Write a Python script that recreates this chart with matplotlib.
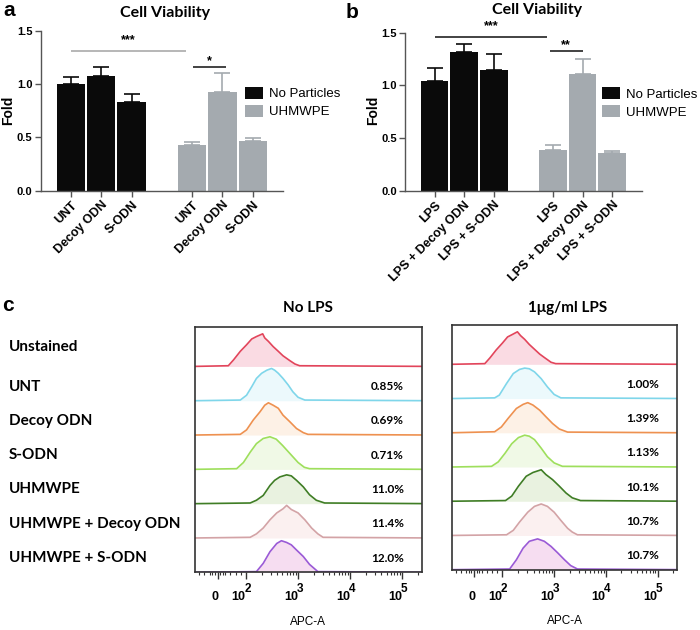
import math
import matplotlib
matplotlib.use("Agg")
import matplotlib.pyplot as plt
from matplotlib.transforms import blended_transform_factory

plt.rcParams['font.family'] = ['Liberation Sans', 'DejaVu Sans']

# ---------------- data: bar panels ----------------
a_labels = ["UNT", "Decoy ODN", "S-ODN", "UNT", "Decoy ODN", "S-ODN"]
a_values = [1.00, 1.08, 0.835, 0.43, 0.925, 0.465]
a_errors = [0.07, 0.085, 0.073, 0.03, 0.185, 0.033]
b_labels = ["LPS", "LPS + Decoy ODN", "LPS + S-ODN", "LPS", "LPS + Decoy ODN", "LPS + S-ODN"]
b_values = [1.042, 1.317, 1.143, 0.386, 1.105, 0.361]
b_errors = [0.12, 0.079, 0.152, 0.048, 0.148, 0.019]
groups = ["No Particles", "No Particles", "No Particles", "UHMWPE", "UHMWPE", "UHMWPE"]
bar_pos = [0, 1, 2, 4, 5, 6]

# ---------------- data: flow histograms (x in log10 units, height as fraction of row) ----------------
row_labels = ["Unstained", "UNT", "Decoy ODN", "S-ODN", "UHMWPE", "UHMWPE + Decoy ODN", "UHMWPE + S-ODN"]
pct_nolps = ["", "0.85%", "0.69%", "0.71%", "11.0%", "11.4%", "12.0%"]
pct_lps = ["", "1.00%", "1.39%", "1.13%", "10.1%", "10.7%", "10.7%"]
line_colors = ["#e2455b", "#7fd6ea", "#ee9150", "#9edf5c", "#3f7d25", "#d3a3a6", "#9a5ad6"]
fill_colors = ["#fadbe3", "#ecf9fc", "#fdf1e6", "#f0f9e6", "#e9f2e0", "#fbf0f0", "#f6ddf1"]

L1_u = [1.66, 1.76, 1.89, 2.01, 2.11, 2.20, 2.32, 2.36, 2.43, 2.52, 2.62, 2.71, 2.84, 2.94, 3.03]
L1_h = [0.02, 0.19, 0.44, 0.63, 0.80, 0.87, 0.95, 0.83, 0.73, 0.58, 0.44, 0.31, 0.17, 0.07, 0.02]
L2_u = [1.89, 2.01, 2.11, 2.20, 2.30, 2.40, 2.49, 2.55, 2.62, 2.71, 2.81, 2.90, 3.00, 3.13]
L2_h = [0.02, 0.16, 0.41, 0.65, 0.80, 0.89, 0.94, 0.89, 0.80, 0.65, 0.46, 0.26, 0.10, 0.02]
L3_u = [1.89, 2.01, 2.14, 2.27, 2.36, 2.43, 2.52, 2.62, 2.71, 2.84, 2.97, 3.10, 3.19]
L3_h = [0.02, 0.15, 0.44, 0.68, 0.87, 0.94, 0.87, 0.78, 0.58, 0.39, 0.19, 0.07, 0.02]
L4_u = [1.82, 1.95, 2.08, 2.20, 2.33, 2.46, 2.58, 2.70, 2.85, 3.00, 3.12, 3.22]
L4_h = [0.02, 0.20, 0.50, 0.75, 0.90, 0.95, 0.88, 0.70, 0.45, 0.20, 0.06, 0.02]
L5_u = [2.08, 2.20, 2.33, 2.46, 2.55, 2.65, 2.78, 2.87, 2.97, 3.10, 3.22, 3.35, 3.51]
L5_h = [0.02, 0.10, 0.24, 0.53, 0.68, 0.78, 0.84, 0.81, 0.68, 0.49, 0.26, 0.10, 0.02]
L6_u = [2.08, 2.20, 2.33, 2.46, 2.59, 2.71, 2.78, 2.87, 3.00, 3.13, 3.26, 3.38, 3.48]
L6_h = [0.02, 0.12, 0.29, 0.53, 0.73, 0.85, 0.95, 0.83, 0.73, 0.53, 0.29, 0.12, 0.02]
L7_u = [2.20, 2.33, 2.46, 2.59, 2.68, 2.78, 2.87, 2.97, 3.10, 3.22, 3.38]
L7_h = [0.02, 0.26, 0.60, 0.84, 0.92, 0.87, 0.80, 0.65, 0.46, 0.23, 0.02]

R1_u = [1.66, 1.76, 1.88, 2.00, 2.10, 2.19, 2.29, 2.35, 2.43, 2.52, 2.62, 2.72, 2.81, 2.94, 3.03]
R1_h = [0.02, 0.19, 0.42, 0.62, 0.80, 0.87, 0.95, 0.84, 0.73, 0.58, 0.44, 0.30, 0.20, 0.06, 0.02]
R2_u = [1.85, 1.94, 2.08, 2.21, 2.33, 2.43, 2.52, 2.62, 2.75, 2.87, 3.00, 3.13]
R2_h = [0.02, 0.10, 0.44, 0.73, 0.85, 0.89, 0.87, 0.78, 0.58, 0.34, 0.12, 0.02]
R3_u = [1.85, 1.98, 2.11, 2.27, 2.40, 2.49, 2.59, 2.72, 2.84, 2.97, 3.10, 3.26]
R3_h = [0.03, 0.17, 0.42, 0.71, 0.83, 0.88, 0.81, 0.66, 0.47, 0.27, 0.11, 0.02]
R4_u = [1.79, 1.92, 2.05, 2.18, 2.31, 2.43, 2.52, 2.62, 2.75, 2.87, 3.00, 3.16]
R4_h = [0.02, 0.15, 0.40, 0.68, 0.86, 0.93, 0.90, 0.80, 0.55, 0.30, 0.12, 0.02]
R5_u = [2.06, 2.18, 2.31, 2.46, 2.59, 2.75, 2.84, 2.97, 3.10, 3.23, 3.35, 3.51]
R5_h = [0.02, 0.15, 0.44, 0.73, 0.84, 0.92, 0.78, 0.63, 0.44, 0.24, 0.10, 0.02]
R6_u = [2.08, 2.21, 2.33, 2.49, 2.62, 2.75, 2.87, 3.00, 3.13, 3.26, 3.35, 3.45]
R6_h = [0.02, 0.15, 0.39, 0.68, 0.85, 0.92, 0.85, 0.68, 0.44, 0.21, 0.10, 0.02]
R7_u = [2.14, 2.27, 2.40, 2.52, 2.68, 2.81, 2.94, 3.07, 3.20, 3.32, 3.45]
R7_h = [0.02, 0.29, 0.63, 0.83, 0.90, 0.83, 0.68, 0.49, 0.29, 0.12, 0.02]

nolps_u = [L1_u, L2_u, L3_u, L4_u, L5_u, L6_u, L7_u]
nolps_h = [L1_h, L2_h, L3_h, L4_h, L5_h, L6_h, L7_h]
lps_u = [R1_u, R2_u, R3_u, R4_u, R5_u, R6_u, R7_u]
lps_h = [R1_h, R2_h, R3_h, R4_h, R5_h, R6_h, R7_h]

decade_ticks = [2, 3, 4, 5]
decade_exps = ["2", "3", "4", "5"]
zero_tick = 1.46

BLACK = "#0a0a0a"
GRAY = "#a4aaaf"
CAL = ['Lato', 'DejaVu Sans']
W, H = 700, 630

fig = plt.figure(figsize=(7, 6.3), dpi=100)


def fx(px):
    return px / W


def fy(py):
    return 1 - py / H


def bar_panel(rect, labels, values, errors, sig, leg_x, leg_y):
    ax = fig.add_axes(rect)
    cols = [BLACK if g == "No Particles" else GRAY for g in groups]
    for i, (p, v, e, c) in enumerate(zip(bar_pos, values, errors, cols)):
        lab = groups[i] if i in (0, 3) else None
        ax.bar(p, v, width=0.93, color=c, label=lab, zorder=2)
        ax.errorbar(p, v, yerr=[[0], [e]], fmt='none', ecolor=c, elinewidth=1.2,
                    capsize=5.5, capthick=1.2, zorder=3)
    ax.set_xlim(-1, 7)
    ax.set_ylim(0, 1.5)
    ax.set_yticks([0, 0.5, 1.0, 1.5])
    ax.set_yticklabels(["0.0", "0.5", "1.0", "1.5"], fontsize=8, fontweight='bold')
    ax.set_xticks(bar_pos)
    ax.set_xticklabels(labels, rotation=45, ha='right', rotation_mode='anchor',
                       fontsize=9, fontweight='bold')
    for s in ("top", "right"):
        ax.spines[s].set_visible(False)
    for s in ("left", "bottom"):
        ax.spines[s].set_color("#555555")
        ax.spines[s].set_linewidth(1.0)
    ax.tick_params(axis='both', direction='out', color="#555555", length=4, width=1.0, pad=2)
    ax.legend(loc='center left', bbox_to_anchor=(leg_x, leg_y), frameon=False,
              fontsize=9.5, handlelength=1.35, handleheight=1.0, handletextpad=0.45,
              labelspacing=0.35, borderaxespad=0, borderpad=0)
    for (x0, x1, y, txt, ty, col) in sig:
        ax.plot([x0, x1], [y, y], color=col, lw=1.2, clip_on=False, solid_capstyle='butt')
        ax.text((x0 + x1) / 2, ty, txt, ha='center', va='center', fontsize=9,
                fontweight='bold', clip_on=False)
    return ax


axa = bar_panel([fx(40.7), fy(190.7), fx(242.3), 159.7 / H], a_labels, a_values, a_errors,
                [(0, 3.8, 1.315, "***", 1.41, "#aaaaaa"), (4.02, 5.12, 1.164, "*", 1.215, "#222222")],
                0.843, 0.552)
axb = bar_panel([fx(405), fy(190.7), fx(236.7), 158 / H], b_labels, b_values, b_errors,
                [(0.02, 3.8, 1.462, "***", 1.56, "#222222"), (3.9, 5.0, 1.327, "**", 1.385, "#222222")],
                0.832, 0.555)

fig.text(fx(8), fy(110), "Fold", rotation=90, ha='center', va='center', fontsize=10, fontweight='bold')
fig.text(fx(373), fy(110), "Fold", rotation=90, ha='center', va='center', fontsize=10, fontweight='bold')

fig.text(fx(165), fy(13), "Cell Viability", ha='center', va='center', fontsize=11.5,
         fontweight='bold', family=CAL)
fig.text(fx(537), fy(10), "Cell Viability", ha='center', va='center', fontsize=11.5,
         fontweight='bold', family=CAL)
fig.text(fx(9), fy(10), "a", ha='center', va='center', fontsize=15, fontweight='bold')
fig.text(fx(352), fy(12), "b", ha='center', va='center', fontsize=15, fontweight='bold')
fig.text(fx(8), fy(305), "c", ha='center', va='center', fontsize=15, fontweight='bold')


def hist_panel(rect, us, hs, pcts, title, title_x, title_y, xlab_x, xlab_y):
    ax = fig.add_axes(rect)
    n = len(us)
    for k in range(n):
        base = n - 1 - k
        u = [1.0] + us[k] + [5.6]
        h = [0.0] + hs[k] + [0.0]
        y = [base + v for v in h]
        ax.fill_between(u, base, y, color=fill_colors[k], lw=0, zorder=1)
        ax.plot(u, y, color=line_colors[k], lw=1.2, zorder=2)
        if pcts[k]:
            ax.text(4.72, base + 0.41, pcts[k], ha='center', va='center', fontsize=8.5,
                    fontweight='bold', family=CAL)
    ax.set_xlim(1.02, 5.38)
    ax.set_ylim(0, 7.14)
    ax.set_yticks([])
    ax.set_xticks([zero_tick] + decade_ticks)
    ax.set_xticklabels([])
    minor = [1.1, 1.2, 1.3, 1.35, 1.4, 1.5, 1.55, 1.6, 1.7, 1.8, 1.9]
    for d in (2, 3, 4, 5):
        for m in range(2, 10):
            v = d + math.log10(m)
            if v < 5.38:
                minor.append(v)
    ax.set_xticks(minor, minor=True)
    ax.tick_params(axis='x', which='major', length=5, width=1.0, color="#333333")
    ax.tick_params(axis='x', which='minor', length=2.5, width=0.8, color="#333333")
    for s in ax.spines.values():
        s.set_color("#333333")
        s.set_linewidth(1.2)
    tr = blended_transform_factory(ax.transData, fig.transFigure)
    ax.text(zero_tick - 0.05, fy(596.7), "0", transform=tr, ha='center', va='center',
            fontsize=9, fontweight='bold')
    for t, e in zip(decade_ticks, decade_exps):
        ax.text(t - 0.14, fy(597), "10", transform=tr, ha='center', va='center',
                fontsize=9, fontweight='bold')
        ax.text(t + 0.03, fy(589), e, transform=tr, ha='center', va='center',
                fontsize=8.5, fontweight='bold')
    fig.text(fx(xlab_x), fy(xlab_y), "APC-A", ha='center', va='center', fontsize=8.5)
    fig.text(fx(title_x), fy(title_y), title, ha='center', va='center', fontsize=11,
             fontweight='bold', family=CAL)
    return ax


axc1 = hist_panel([fx(195), fy(572.3), fx(227), 245 / H], nolps_u, nolps_h, pct_nolps,
                  "No LPS", 308, 307.7, 308, 622)
axc2 = hist_panel([fx(451.7), fy(569.7), fx(225.6), 244.4 / H], lps_u, lps_h, pct_lps,
                  "1μg/ml LPS", 568, 308.3, 565, 621.5)

row_label_y = [346.7, 386.7, 420.7, 455, 489.3, 524, 558.3]
for lab, py in zip(row_labels, row_label_y):
    fig.text(fx(9), fy(py), lab, ha='left', va='center', fontsize=11, fontweight='bold', family=CAL)

fig.savefig("out.png", dpi=100)
